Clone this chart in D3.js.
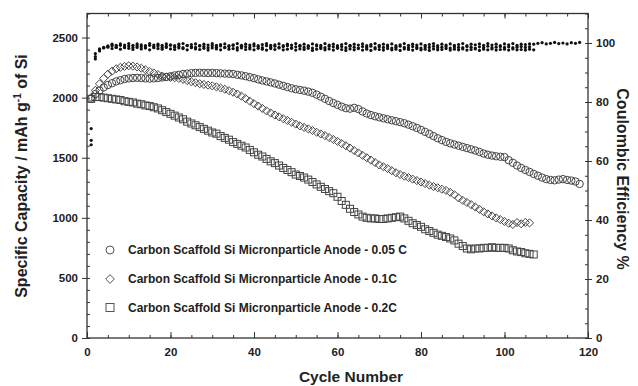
<!DOCTYPE html>
<html><head><meta charset="utf-8">
<script src="https://cdn.jsdelivr.net/npm/d3@7/dist/d3.min.js"></script>
<style>
html,body{margin:0;padding:0;background:#fff;}
text{font-family:"Liberation Sans",Arial,sans-serif;font-weight:bold;fill:#222;}
</style></head>
<body><svg id="c" width="638" height="386"></svg>
<script>
// ---- data ----
const seriesNames = [
  "Carbon Scaffold Si Micronparticle Anode - 0.05 C",
  "Carbon Scaffold Si Micronparticle Anode - 0.1C",
  "Carbon Scaffold Si Micronparticle Anode - 0.2C"
];
const cap005 = [1990,2030,2060,2085,2105,2120,2135,2145,2155,2160,
2163,2165,2163,2160,2158,2160,2163,2168,2172,2178,
2185,2190,2196,2200,2204,2206,2207,2206,2205,2206,
2204,2202,2200,2199,2196,2190,2185,2178,2170,2162,
2152,2143,2135,2127,2118,2108,2098,2088,2078,2070,
2064,2058,2050,2040,2025,2008,1990,1972,1955,1940,
1925,1912,1908,1915,1905,1885,1868,1855,1845,1836,
1828,1820,1812,1804,1796,1787,1775,1762,1748,1732,
1715,1698,1680,1662,1647,1632,1620,1610,1600,1590,
1580,1570,1560,1548,1535,1525,1518,1512,1508,1505,
1480,1458,1435,1415,1398,1382,1365,1350,1335,1322,
1315,1312,1318,1322,1315,1310,1302,1282];
const cap01 = [2000,2060,2115,2160,2195,2220,2240,2252,2260,2265,
2262,2255,2245,2232,2218,2205,2192,2180,2172,2168,
2165,2160,2152,2142,2132,2124,2116,2110,2104,2098,
2090,2080,2070,2058,2045,2030,2012,1992,1970,1950,
1930,1910,1890,1872,1855,1840,1825,1810,1795,1780,
1765,1752,1740,1726,1712,1698,1684,1668,1652,1636,
1618,1600,1580,1560,1540,1520,1500,1480,1460,1440,
1425,1410,1392,1375,1360,1347,1335,1322,1310,1298,
1285,1272,1260,1250,1238,1228,1212,1192,1165,1145,
1128,1110,1090,1070,1050,1033,1016,1000,985,970,
955,945,960,950,962,958];
const cap02 = [1990,2005,2005,2000,1995,1990,1985,1980,1970,1965,
1960,1950,1945,1935,1930,1920,1910,1895,1880,1865,
1850,1835,1820,1800,1785,1770,1755,1740,1725,1710,
1700,1680,1665,1650,1630,1615,1600,1585,1565,1545,
1525,1510,1490,1470,1455,1435,1415,1398,1380,1360,
1348,1335,1318,1298,1278,1258,1240,1222,1205,1175,
1140,1108,1075,1048,1028,1010,1000,995,995,990,
990,995,1000,1005,1010,995,975,955,940,925,
905,890,875,860,850,840,828,812,785,765,
745,738,745,745,750,750,755,750,750,750,
745,730,720,715,705,700,695];
const ce005 = [71.0,94.6,97.3,98.4,99.0,99.6,99.2,99.7,99.3,99.8,
99.2,99.7,99.4,99.1,99.8,99.3,99.6,99.2,99.7,99.4,
99.1,99.6,99.8,99.2,99.5,99.7,99.1,99.6,99.3,99.8,
99.2,99.5,99.7,99.1,99.4,99.8,99.2,99.6,99.3,99.7,
99.1,99.5,99.8,99.2,99.4,99.7,99.1,99.6,99.3,99.8,
99.2,99.6,99.1,99.7,99.4,99.2,99.8,99.3,99.6,99.1,
99.5,99.8,99.2,99.6,99.3,99.7,99.1,99.5,99.8,99.2,
99.6,99.3,99.7,99.1,99.4,99.8,99.2,99.6,99.3,99.7,
99.2,99.5,99.8,99.1,99.6,99.3,99.7,99.2,99.5,99.8,
99.1,99.6,99.4,99.7,99.2,99.8,99.3,99.6,99.1,99.7,
99.4,99.8,99.2,99.6,99.5,99.7,99.6,99.9,100.1,99.7,
99.9,100.2,99.8,100.0,99.7,100.1,99.9,100.2];
const ce01 = [67.0,95.4,97.8,98.5,98.8,99.1,98.6,99.2,98.7,99.0,
98.5,99.1,98.8,98.4,99.2,98.7,99.0,98.5,98.9,99.2,
98.6,98.9,98.4,99.1,98.7,98.5,99.0,98.8,98.4,99.1,
98.6,99.0,98.5,98.8,99.2,98.4,98.9,98.7,98.5,99.0,
98.8,98.4,99.1,98.6,98.9,98.5,98.8,99.1,98.4,98.7,
98.9,98.5,98.8,98.3,99.0,98.6,98.4,98.9,98.7,98.5,
98.8,98.4,98.9,98.6,98.3,98.8,98.5,98.9,98.4,98.7,
98.5,98.8,98.3,98.6,98.9,98.5,98.4,98.8,98.6,98.3,
98.7,98.5,98.9,98.4,98.6,98.8,98.3,98.7,98.5,98.4,
98.8,98.6,98.3,98.7,98.5,98.9,98.4,98.6,98.8,98.5,
98.7,98.4,98.6,98.8,98.5,98.7];
const ce02 = [65.5,96.4,98.0,98.3,98.6,98.1,98.5,97.9,98.4,98.2,
97.8,98.5,98.0,98.3,97.7,98.4,98.1,97.9,98.5,98.0,
97.8,98.3,98.1,97.7,98.4,98.0,97.8,98.2,97.6,98.3,
98.0,97.7,98.4,97.9,98.1,97.6,98.3,97.8,98.0,97.7,
98.2,97.9,97.6,98.1,97.8,98.3,97.7,97.9,98.2,97.6,
98.0,97.8,98.2,97.5,97.9,98.1,97.7,98.0,97.6,98.2,
97.8,97.5,98.0,97.7,98.1,97.6,97.9,97.5,98.0,97.8,
97.6,98.1,97.7,97.9,97.5,98.0,97.8,97.6,98.1,97.7,
97.9,97.5,98.0,97.7,97.8,98.1,97.6,97.9,97.7,98.0,
97.6,97.8,98.0,97.5,97.9,97.7,98.0,97.6,97.8,97.9,
97.6,98.0,97.7,97.8,97.6,97.9,97.7];
const xTicks = [0,20,40,60,80,100,120];
const yLeftTicks = [0,500,1000,1500,2000,2500];
const yRightTicks = [0,20,40,60,80,100];

// ---- layout ----
const svg = d3.select("#c");
const L = 87, R = 588, T = 13.5, B = 338;
const x = d3.scaleLinear().domain([0,120]).range([L,R]);
const yL = d3.scaleLinear().domain([0,2700]).range([B,T]);
const yR = d3.scaleLinear().domain([0,110]).range([B,T]);
const axisCol = "#333";

function styleAxis(g){
  g.select(".domain").remove();
  g.selectAll("line").attr("stroke",axisCol).attr("stroke-width",1);
  g.selectAll("text").attr("font-size",11.5).attr("fill","#222");
}
const minorX = d3.range(0,121,5), minorYL = d3.range(0,2701,100), minorYR = d3.range(0,111,5);

// bottom
svg.append("g").attr("transform",`translate(0,${B})`)
  .call(d3.axisBottom(x).tickValues(minorX).tickSize(-3).tickFormat("")).call(styleAxis);
svg.append("g").attr("transform",`translate(0,${B})`)
  .call(d3.axisBottom(x).tickValues(xTicks).tickSize(-6).tickPadding(10).tickFormat(d3.format("d"))).call(styleAxis);
// top
svg.append("g").attr("transform",`translate(0,${T})`)
  .call(d3.axisTop(x).tickValues(minorX).tickSize(-3).tickFormat("")).call(styleAxis);
svg.append("g").attr("transform",`translate(0,${T})`)
  .call(d3.axisTop(x).tickValues(xTicks).tickSize(-5).tickFormat("")).call(styleAxis);
// left
svg.append("g").attr("transform",`translate(${L},0)`)
  .call(d3.axisRight(yL).tickValues(minorYL).tickSize(3).tickFormat("")).call(styleAxis);
svg.append("g").attr("transform",`translate(${L},0)`)
  .call(d3.axisLeft(yL).tickValues(yLeftTicks).tickSize(5).tickPadding(4).tickFormat(d3.format("d"))).call(styleAxis);
// right
svg.append("g").attr("transform",`translate(${R},0)`)
  .call(d3.axisLeft(yR).tickValues(minorYR).tickSize(3).tickFormat("")).call(styleAxis);
svg.append("g").attr("transform",`translate(${R},0)`)
  .call(d3.axisRight(yR).tickValues(yRightTicks).tickSize(4).tickPadding(4).tickFormat(d3.format("d"))).call(styleAxis);

svg.append("rect").attr("x",L).attr("y",T).attr("width",R-L).attr("height",B-T)
  .attr("fill","none").attr("stroke",axisCol).attr("stroke-width",1.3);

// ---- markers ----
const mk = "#444";
const gData = svg.append("g");
function series(arr){ return arr.map((v,i)=>({c:i+1,v})); }
gData.selectAll(".c").data(series(cap005)).join("circle")
  .attr("cx",d=>x(d.c)).attr("cy",d=>yL(d.v)).attr("r",3.7)
  .attr("fill","none").attr("stroke",mk).attr("stroke-width",1);
const dSym = d3.symbol().type(d3.symbolDiamond2).size(42);
gData.selectAll(".d").data(series(cap01)).join("path")
  .attr("d",dSym).attr("transform",d=>`translate(${x(d.c)},${yL(d.v)})`)
  .attr("fill","none").attr("stroke",mk).attr("stroke-width",1);
gData.selectAll(".s").data(series(cap02)).join("rect")
  .attr("x",d=>x(d.c)-3.5).attr("y",d=>yL(d.v)-3.5).attr("width",7).attr("height",7)
  .attr("fill","none").attr("stroke",mk).attr("stroke-width",1);
[ce005,ce01,ce02].forEach((arr,k)=>{
  gData.append("g").selectAll("circle").data(series(arr)).join("circle")
    .attr("cx",d=>x(d.c)).attr("cy",d=>yR(d.v)).attr("r",1.6)
    .attr("fill","#111");
});

// ---- legend ----
const legY = [250,279,307.5];
const lg = svg.append("g");
lg.append("circle").attr("cx",110).attr("cy",legY[0]).attr("r",4).attr("fill","none").attr("stroke","#555");
lg.append("path").attr("d",d3.symbol().type(d3.symbolDiamond2).size(48)()).attr("transform",`translate(110,${legY[1]})`).attr("fill","none").attr("stroke","#555");
lg.append("rect").attr("x",106).attr("y",legY[2]-4).attr("width",8).attr("height",8).attr("fill","none").attr("stroke","#555");
seriesNames.forEach((n,i)=>{
  lg.append("text").attr("x",128).attr("y",legY[i]).attr("dy","0.35em").attr("font-size",12).text(n);
});

// ---- titles ----
svg.append("text").attr("x",351).attr("y",382).attr("text-anchor","middle").attr("font-size",15.5).text("Cycle Number");
const lt = svg.append("text").attr("transform","translate(27,176) rotate(-90)").attr("text-anchor","middle").attr("font-size",16);
lt.append("tspan").text("Specific Capacity / mAh g");
lt.append("tspan").attr("dy",-6).attr("font-size",10).text("-1");
lt.append("tspan").attr("dy",6).text(" of Si");
svg.append("text").attr("transform","translate(617,179) rotate(90)").attr("text-anchor","middle").attr("font-size",16).text("Coulombic Efficiency %");
</script></body></html>
